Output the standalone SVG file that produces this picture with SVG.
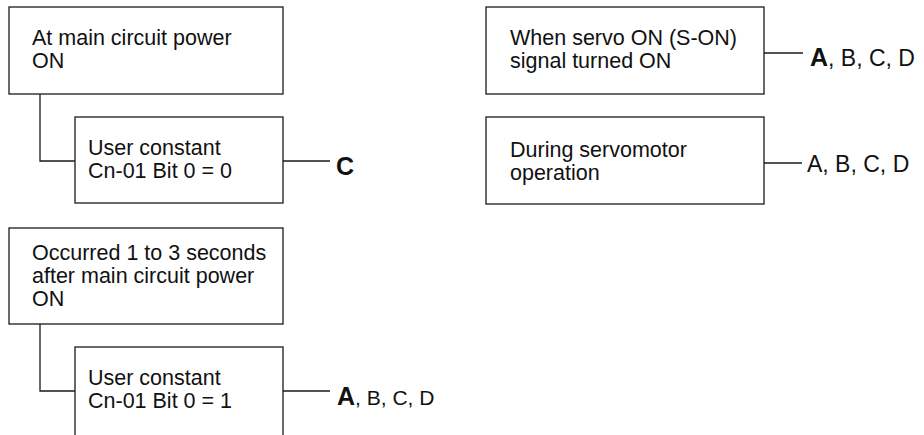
<svg xmlns="http://www.w3.org/2000/svg" width="924" height="435" viewBox="0 0 924 435">
<style>
.box{fill:#fff;stroke:#1a1a1a;stroke-width:1.3}
.ln{fill:none;stroke:#1a1a1a;stroke-width:1.3}
text{font-family:"Liberation Sans",Arial,sans-serif;font-size:21.5px;fill:#111}
.b{font-weight:bold;font-size:25px}
.rl{font-size:23px}
</style>
<rect width="924" height="435" fill="#fff"/>
<g id="connectors">
<polyline class="ln" points="40,94 40,161 75,161"/>
<line class="ln" x1="283" y1="161" x2="330" y2="161"/>
<polyline class="ln" points="40,324 40,391 75,391"/>
<line class="ln" x1="283" y1="391" x2="330" y2="391"/>
<line class="ln" x1="764" y1="53" x2="803" y2="53"/>
<line class="ln" x1="764" y1="163" x2="802" y2="163"/>
</g>
<g id="n1"><rect class="box" x="9" y="7" width="274" height="87"/><text x="32" y="45">At main circuit power</text><text x="32" y="68">ON</text></g>
<g id="n2"><rect class="box" x="75" y="117" width="208" height="86"/><text x="88" y="155">User constant</text><text x="88" y="178">Cn-01 Bit 0 = 0</text></g>
<g id="r1"><text class="b" x="336" y="175">C</text></g>
<g id="n3"><rect class="box" x="9" y="228" width="274" height="96"/><text x="32" y="260">Occurred 1 to 3 seconds</text><text x="32" y="283">after main circuit power</text><text x="32" y="306">ON</text></g>
<g id="n4"><rect class="box" x="75" y="347" width="208" height="100"/><text x="88" y="385">User constant</text><text x="88" y="408">Cn-01 Bit 0 = 1</text></g>
<g id="r2"><text x="337" y="405" style="font-size:21px"><tspan class="b">A</tspan>, B, C, D</text></g>
<g id="n5"><rect class="box" x="486" y="7" width="278" height="87"/><text x="510" y="45">When servo ON (S-ON)</text><text x="510" y="68">signal turned ON</text></g>
<g id="r3"><text class="rl" x="810" y="66"><tspan class="b">A</tspan>, B, C, D</text></g>
<g id="n6"><rect class="box" x="486" y="117" width="278" height="87"/><text x="510" y="157">During servomotor</text><text x="510" y="180">operation</text></g>
<g id="r4"><text class="rl" x="807" y="172">A, B, C, D</text></g>
</svg>
